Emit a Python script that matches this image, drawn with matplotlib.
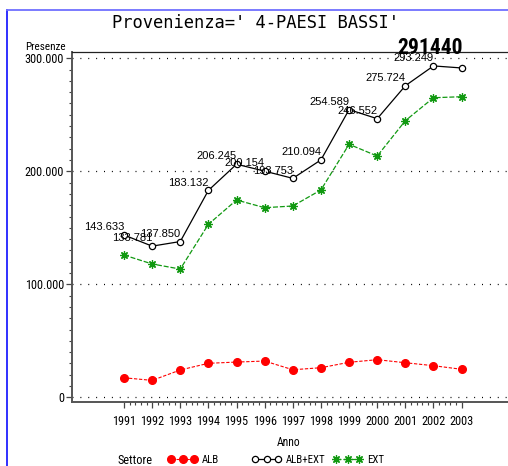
import matplotlib
matplotlib.use("Agg")
import matplotlib.pyplot as plt
from matplotlib.lines import Line2D
from matplotlib.ticker import FixedLocator, FuncFormatter

# dati
anni = [1991, 1992, 1993, 1994, 1995, 1996, 1997, 1998, 1999, 2000, 2001, 2002, 2003]
alb = [17300, 15000, 24200, 30100, 31200, 32100, 24400, 26200, 31000, 33300, 30600, 28000, 24800]
alb_ext = [143633, 133781, 137850, 183132, 206245, 200154, 193753, 210094,
           254589, 246552, 275724, 293249, 291440]
ext = [125900, 118000, 113500, 153100, 174600, 167800, 169300, 183500,
       223900, 213500, 244800, 265100, 266000]
y_ticks = [0, 100000, 200000, 300000]

NARROW = ["Roboto Condensed", "DejaVu Sans"]
MONO = ["DejaVu Sans Mono"]

fig = plt.figure(figsize=(5.08, 4.66), dpi=100)
ax = fig.add_axes([72 / 508, 1 - 402.3 / 466, (530 - 72) / 508, (402.3 - 52.3) / 466])

red = "#ff0000"
green = "#119911"

ax.plot(anni, alb, color=red, linestyle=(0, (3, 1.5)), linewidth=0.8,
        marker="o", markersize=5.5, markerfacecolor=red, markeredgecolor=red,
        label="ALB", clip_on=False)
ax.plot(anni, alb_ext, color="black", linewidth=0.9,
        marker="o", markersize=4.5, markerfacecolor="white", markeredgecolor="black",
        markeredgewidth=0.9, label="ALB+EXT", clip_on=False)
ax.plot(anni, ext, color=green, linestyle=(0, (4, 1.5)), linewidth=0.9,
        marker=(8, 2, 0), markersize=6, markeredgecolor=green, markeredgewidth=0.9,
        label="EXT", clip_on=False)

# etichette dei valori
for i, (x, v) in enumerate(zip(anni, alb_ext)):
    if i == len(anni) - 1:
        ax.annotate(str(v), (x, v), xytext=(1, 6.5), textcoords="offset points",
                    ha="right", va="bottom", fontsize=15.5, fontweight="bold",
                    family=NARROW, stretch="condensed")
    else:
        ax.annotate(f"{v:,}".replace(",", "."), (x, v), xytext=(0, 2),
                    textcoords="offset points", ha="right", va="bottom",
                    fontsize=8, family=["Liberation Sans", "DejaVu Sans"])

ax.set_xlim(1989.152, 2005.43)
ax.set_ylim(-4400, 305300)

ax.xaxis.set_major_locator(FixedLocator(anni))
minor_x = [a + k / 5 for a in anni[:-1] for k in range(1, 5)]
ax.xaxis.set_minor_locator(FixedLocator(minor_x))
ax.yaxis.set_major_locator(FixedLocator(y_ticks))
ax.yaxis.set_minor_locator(FixedLocator([v for v in range(0, 300001, 10000) if v not in y_ticks]))
ax.yaxis.set_major_formatter(FuncFormatter(lambda v, p: f"{int(v):,}".replace(",", ".")))

for lab in ax.get_xticklabels() + ax.get_yticklabels():
    lab.set_family(NARROW)
    lab.set_stretch("condensed")
    lab.set_fontsize(8.8)

ax.tick_params(axis="both", which="major", direction="out", length=4.3, width=0.9, color="#444444")
ax.tick_params(axis="both", which="minor", direction="out", length=2.2, width=0.8, color="#444444")
ax.tick_params(axis="x", which="major", pad=4.5)
ax.tick_params(axis="y", which="major", pad=1.5)

ax.grid(axis="y", which="major", color="black", linestyle=(0, (0.8, 5.5)), linewidth=0.9)
ax.set_axisbelow(True)

for s in ["left", "bottom"]:
    ax.spines[s].set_color("#555555")
    ax.spines[s].set_linewidth(1.4)
ax.spines["top"].set_color("#222222")
ax.spines["top"].set_linewidth(0.9)
ax.spines["right"].set_visible(False)

ax.text(-0.013, 1.0, "Presenze", transform=ax.transAxes, ha="right", va="bottom",
        fontsize=8, family=NARROW, stretch="condensed")

fig.text(256 / 508, 1 - 23 / 466, "Provenienza=' 4-PAESI BASSI'", ha="center",
         va="center", fontsize=12.3, family=MONO)
fig.text(288.5 / 508, 1 - 443 / 466, "Anno", ha="center", va="center",
         fontsize=8.3, family=NARROW, stretch="condensed")
fig.text(118 / 508, 1 - 460 / 466, "Settore", ha="left", va="center",
         fontsize=8.8, family=NARROW, stretch="condensed")

# legenda: una voce per colonna, a posizioni fisse
leg_x = [168, 252, 333]
for h, lx in zip(ax.get_lines(), leg_x):
    fig.legend([h], [h.get_label()], loc="center left",
               bbox_to_anchor=(lx / 508, 1 - 460 / 466),
               numpoints=3, frameon=False, handlelength=2.7,
               handletextpad=0.45, borderpad=0, borderaxespad=0,
               prop={"family": NARROW, "size": 7.8, "stretch": "condensed"})

# bordo blu
fig.add_artist(Line2D([7 / 508, 7 / 508], [0, 1 - 9.5 / 466], color="#2020ff",
                      linewidth=1.3, transform=fig.transFigure))
fig.add_artist(Line2D([7 / 508, 1], [1 - 9.5 / 466, 1 - 9.5 / 466], color="#7070ff",
                      linewidth=1.3, transform=fig.transFigure))

fig.savefig("out.png", dpi=100)
plt.close(fig)
